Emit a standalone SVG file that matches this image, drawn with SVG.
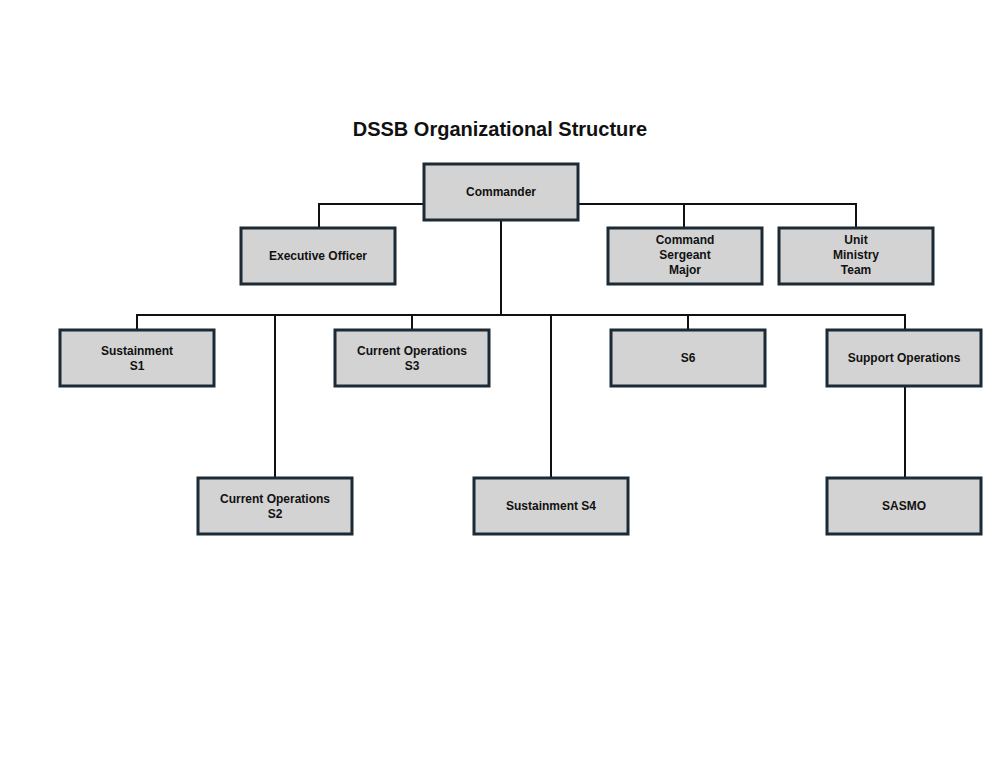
<svg xmlns="http://www.w3.org/2000/svg" width="1000" height="773" viewBox="0 0 1000 773">
<style>
.b{fill:#d3d3d3;stroke:#1c2a35;stroke-width:3}
.t{font-family:"Liberation Sans",Arial,sans-serif;font-size:12px;font-weight:bold;fill:#111;text-anchor:middle}
.c{stroke:#111;stroke-width:2;fill:none}
</style>
<rect width="1000" height="773" fill="#fff"/>
<text x="500" y="136" font-family="Liberation Sans,Arial,sans-serif" font-size="20" font-weight="bold" text-anchor="middle" fill="#111">DSSB Organizational Structure</text>
<g id="connectors" class="c">
<path d="M319,227V204H856V227M684,204V227M501,220V315M137,329V315H905V477M275,315V477M412,315V329M551,315V477M688,315V329"/>
</g>
<g id="commander"><rect class="b" x="424" y="164" width="154" height="56"/><text class="t" x="501" y="196">Commander</text></g>
<g id="xo"><rect class="b" x="241" y="228" width="154" height="56"/><text class="t" x="318" y="260">Executive Officer</text></g>
<g id="csm"><rect class="b" x="608" y="228" width="154" height="56"/><text class="t" x="685" y="244">Command</text><text class="t" x="685" y="259">Sergeant</text><text class="t" x="685" y="274">Major</text></g>
<g id="umt"><rect class="b" x="779" y="228" width="154" height="56"/><text class="t" x="856" y="244">Unit</text><text class="t" x="856" y="259">Ministry</text><text class="t" x="856" y="274">Team</text></g>
<g id="s1"><rect class="b" x="60" y="330" width="154" height="56"/><text class="t" x="137" y="355">Sustainment</text><text class="t" x="137" y="370">S1</text></g>
<g id="s3"><rect class="b" x="335" y="330" width="154" height="56"/><text class="t" x="412" y="355">Current Operations</text><text class="t" x="412" y="370">S3</text></g>
<g id="s6"><rect class="b" x="611" y="330" width="154" height="56"/><text class="t" x="688" y="362">S6</text></g>
<g id="supops"><rect class="b" x="827" y="330" width="154" height="56"/><text class="t" x="904" y="362">Support Operations</text></g>
<g id="s2"><rect class="b" x="198" y="478" width="154" height="56"/><text class="t" x="275" y="503">Current Operations</text><text class="t" x="275" y="518">S2</text></g>
<g id="s4"><rect class="b" x="474" y="478" width="154" height="56"/><text class="t" x="551" y="510">Sustainment S4</text></g>
<g id="sasmo"><rect class="b" x="827" y="478" width="154" height="56"/><text class="t" x="904" y="510">SASMO</text></g>
</svg>
